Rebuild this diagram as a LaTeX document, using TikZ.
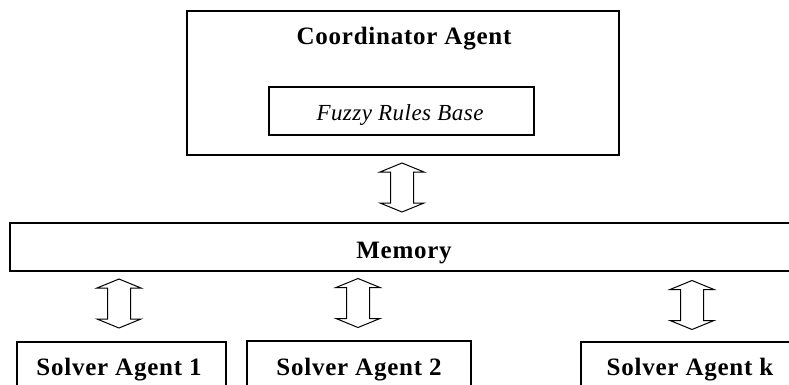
\documentclass[tikz,border=0pt]{standalone}
\usepackage{fontspec}
\setmainfont{Liberation Serif}
\newfontfamily\lbfont[LetterSpace=3]{Liberation Serif}
\newfontfamily\itfont[LetterSpace=2]{Liberation Serif}
\tikzset{
  box/.style={draw=black, line width=1.3pt, inner sep=0pt, fill=none},
  lbl/.style={font=\lbfont\fontsize{25}{29}\selectfont\bfseries, anchor=base, inner sep=0pt},
  itl/.style={font=\itfont\fontsize{23}{27}\selectfont\itshape, anchor=base, inner sep=0pt},
  dblarrow/.pic={\draw[line width=1pt, line join=miter]
    (0,-24.5) -- (22,-15.5) -- (11.5,-15.5) -- (11.5,15.5) -- (22,15.5) -- (0,24.5)
    -- (-22,15.5) -- (-11.5,15.5) -- (-11.5,-15.5) -- (-22,-15.5) -- cycle;}
}
\begin{document}
\begin{tikzpicture}[x=1pt,y=-1pt]
\useasboundingbox (0,0) rectangle (789,384);
\clip (0,0) rectangle (789,384);
% boxes
\node[box, minimum width=432pt, minimum height=144pt] (coord) at (403,83) {};
\node[box, minimum width=265pt, minimum height=48pt] (fuzzy) at (401.5,111) {};
\node[box, minimum width=790pt, minimum height=48pt] (mem) at (405,247) {};
\node[box, minimum width=209pt, minimum height=60pt] (s1) at (121.5,372) {};
\node[box, minimum width=224pt, minimum height=61pt] (s2) at (359,371.5) {};
\node[box, minimum width=219pt, minimum height=60pt] (sk) at (690.5,372) {};
% labels
\node[lbl] (tcoord) at (404,44) {Coordinator Agent};
\node[itl] (tfuzzy) at (400,120) {Fuzzy Rules Base};
\node[lbl] (tmem) at (404,258) {Memory};
\node[lbl] (ts1) at (119,375) {Solver Agent 1};
\node[lbl] (ts2) at (359,375) {Solver Agent 2};
\node[lbl] (tsk) at (690,375) {Solver Agent k};
% double arrows
\coordinate (a0) at (402,187.5);
\coordinate (a1) at (119,303.5);
\coordinate (a2) at (358,303);
\coordinate (ak) at (692,305);
\pic at (a0) {dblarrow};
\pic at (a1) {dblarrow};
\pic at (a2) {dblarrow};
\pic at (ak) {dblarrow};
\end{tikzpicture}
\end{document}
